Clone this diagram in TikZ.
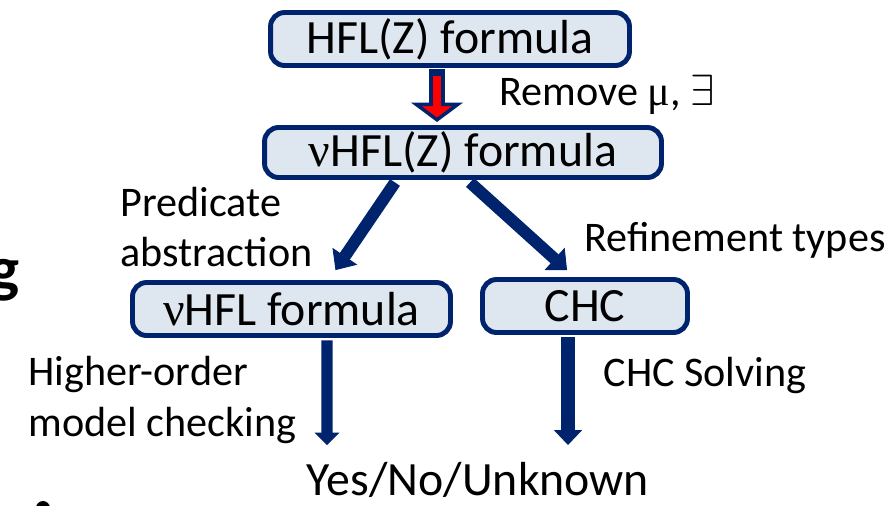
\documentclass[tikz,border=0pt]{standalone}
\usepackage{fontspec}
\setmainfont{Carlito}
\newfontfamily\grkfont{Liberation Serif}
\usetikzlibrary{arrows.meta,calc}
\definecolor{navy}{RGB}{0,35,110}
\definecolor{boxfill}{RGB}{222,230,240}

\begin{document}
\begin{tikzpicture}[x=0.02cm,y=-0.02cm,
	formula/.style={draw=navy,fill=boxfill,line width=2.8pt,rounded corners=8pt,inner sep=0pt,font=\fontsize{27.2}{30}\selectfont},
	lbl/.style={inner sep=0pt,font=\fontsize{24}{28.5}\selectfont},
	flow/.style={navy,line width=6.4pt,-{Triangle[width=14pt,length=7pt,line width=0.5pt]}},
	flowwide/.style={navy,line width=8.2pt,-{Triangle[width=16pt,length=8.5pt,line width=0.5pt]}},
	slant/.style={navy,line width=6.8pt,-{Triangle[width=17pt,length=9.5pt,line width=0.5pt]}},
	redflow/.style={navy,line width=9.6pt,-{Triangle[width=29pt,length=11pt,line width=2pt,fill=red]}}]
	\useasboundingbox (0,0) rectangle (895,505);
	\node[formula,minimum width=7.18cm,minimum height=1.06cm] (hfl) at (450,39) {HFL(Z) formula};
	\node[formula,minimum width=7.94cm,minimum height=1.0cm] (nuhflz) at (463,152.5) {{\grkfont ν}HFL(Z) formula};
	\node[formula,minimum width=6.36cm,minimum height=1.06cm] (nuhfl) at (291.5,309) {{\grkfont ν}HFL formula};
	\node[formula,minimum width=4.1cm,minimum height=1.06cm] (chc) at (585,306) {CHC};
	\node[lbl,font=\fontsize{27.2}{30}\selectfont] (result) at (478,480) {Yes/No/Unknown};
	\node[lbl] (remove) at (607,95) {Remove {\grkfont μ}, $\exists$};
	\node[lbl,anchor=west,align=left] (pred) at (120,227) {Predicate\\abstraction};
	\node[lbl] (refine) at (735,240) {Refinement types};
	\node[lbl,anchor=west,align=left] (hock) at (28,400) {Higher-order\\model checking};
	\node[lbl] (solve) at (705,375) {CHC Solving};
	\node[inner sep=0pt,anchor=base east,font=\fontsize{36}{40}\bfseries\selectfont] (gpart) at (20,290) {g};
	\fill (43,508) circle (7);
	\coordinate (yesl) at (327,445);
	\coordinate (yesr) at (568,445);
	\draw[redflow] ($(hfl.south)+(-13,1)$) -- ($(nuhflz.north)+(-26,-3)$);
	\draw[red,line width=4.5pt,shorten <=4pt,shorten >=8pt] ($(hfl.south)+(-13,1)$) -- ($(nuhflz.north)+(-26,-3)$);
	\draw[slant] ($(nuhflz.south)+(-68,2.5)$) -- ($(nuhfl.north)+(44,-10)$);
	\draw[slant] ($(nuhflz.south)+(7,2.5)$) -- ($(chc.north)+(-18,-7)$);
	\draw[flow] ($(nuhfl.south)+(35.5,2.5)$) -- (yesl);
	\draw[flowwide] ($(chc.south)+(-17,2.5)$) -- (yesr);
\end{tikzpicture}
\end{document}
